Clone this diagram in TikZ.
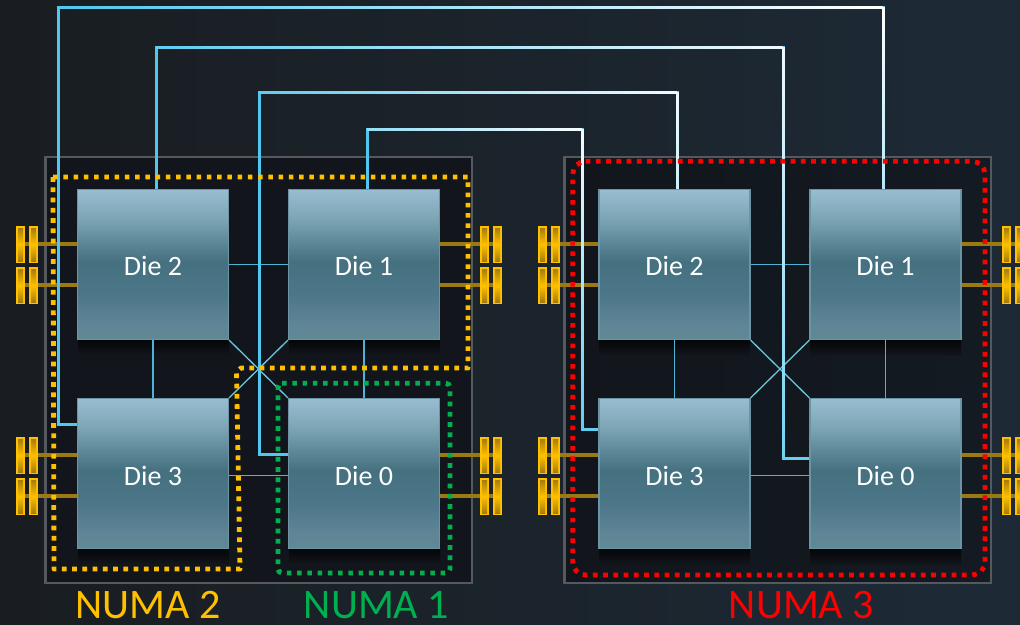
\documentclass[tikz,border=0pt]{standalone}
\usepackage{fontspec}
\setmainfont{Carlito}
\usetikzlibrary{calc}
\definecolor{bgL}{HTML}{191D21}
\definecolor{bgR}{HTML}{1D2A36}
\definecolor{pkgFill}{HTML}{12161C}
\definecolor{pkgFillR}{HTML}{131A22}
\definecolor{pkgLine}{HTML}{55595E}
\definecolor{linkc}{HTML}{4FC7EE}
\definecolor{thinc}{HTML}{4DB5D3}
\definecolor{diagc}{HTML}{6CC6DC}
\definecolor{tracec}{HTML}{9B7A14}
\definecolor{pinc}{HTML}{FFC000}
\definecolor{pinD}{HTML}{A67C0C}
\definecolor{numaG}{HTML}{00B050}
\definecolor{d0}{HTML}{5F8A93}
\definecolor{d1}{HTML}{5F8596}
\definecolor{d15}{HTML}{4C7789}
\definecolor{d2}{HTML}{44707F}
\definecolor{d3}{HTML}{7BA4B4}
\definecolor{d4}{HTML}{9ABDD0}
\pgfdeclareverticalshading{dieshade}{100bp}{color(0bp)=(d0); color(25bp)=(d0); color(30bp)=(d1); color(40bp)=(d15); color(51bp)=(d2); color(65bp)=(d3); color(75bp)=(d4); color(100bp)=(d4)}
\pgfdeclareverticalshading{pinshade}{100bp}{color(0bp)=(pinD); color(25bp)=(pinD); color(50bp)=(pinc); color(75bp)=(pinD); color(100bp)=(pinD)}
\tikzset{
  pkgbox/.style={draw=pkgLine,line width=2.2pt},
  die/.style={shade,shading=dieshade,draw=d3!70!d2,line width=1.2pt,minimum width=151pt,minimum height=150pt,inner sep=0pt,text=white,font=\fontsize{28}{30}\selectfont},
  link/.style={draw=linkc,line width=3pt,line join=miter},
  thinlink/.style={draw=thinc,line width=1.3pt},
  diag/.style={draw=diagc,line width=1.3pt},
  trace/.style={draw=tracec,line width=3.4pt},
  numadots/.style={line width=4.8pt,dash pattern=on 4.6pt off 5.65pt},
  numalabel/.style={inner sep=0pt,anchor=base,text height=27pt,text depth=0pt,font=\fontsize{42}{46}\selectfont},
}
\newcommand{\dietop}[1]{\raisebox{-10.5pt}[0pt][0pt]{#1}}
\newcommand{\diebot}[1]{\raisebox{-11.5pt}[0pt][0pt]{#1}}
\newcommand{\gradlink}[4]{%
  \foreach \i in {0,...,39}{%
    \pgfmathsetmacro{\s}{\i/40}%
    \pgfmathsetmacro{\e}{(\i+1)/40}%
    \pgfmathsetmacro{\p}{#3+(#4-#3)*(\i+.5)/40}%
    \draw[line width=3pt,line cap=square,color=linkc!\p!white] ($(#1)!\s!(#2)$) -- ($(#1)!\e!(#2)$);%
  }}
\newcommand{\pinpair}[2]{%
  \foreach \dx in {0,13}{%
    \fill[pinc] (#1+\dx,#2) rectangle (#1+\dx+9,#2+37);
    \shade[shading=pinshade] (#1+\dx+2,#2+2) rectangle (#1+\dx+7,#2+35);
  }}
\begin{document}
\begin{tikzpicture}[x=1pt,y=-1pt]
\useasboundingbox (0,0) rectangle (1020,624);
\shade[left color=bgL,right color=bgR] (0,0) rectangle (1020,624);
% packages
\shade[left color=pkgFill,right color=pkgFill,pkgbox] (45.5,157) rectangle (472,583);
\shade[left color=pkgFill,right color=pkgFillR,pkgbox] (564.5,157) rectangle (991,583);
% die soft shadows
\foreach \x/\y in {77/189,288/189,77/398,288/398,598/189,809/189,598/398,809/398}{
  \shade[top color=black!75!pkgFill,bottom color=pkgFill] (\x+1,\y+151) rectangle (\x+152,\y+166);
}
\node[die] (d2L) at (153,264.5) {\dietop{Die 2}};
\node[die] (d1L) at (364,264.5) {\dietop{Die 1}};
\node[die] (d3L) at (153,473.5) {\diebot{Die 3}};
\node[die] (d0L) at (364,473.5) {\diebot{Die 0}};
\node[die] (d2R) at (674.5,264.5) {\dietop{Die 2}};
\node[die] (d1R) at (885.5,264.5) {\dietop{Die 1}};
\node[die] (d3R) at (674.5,473.5) {\diebot{Die 3}};
\node[die] (d0R) at (885.5,473.5) {\diebot{Die 0}};
% thin links between dies
\foreach \a/\b/\c/\d in {d2L/d1L/d3L/d0L,d2R/d1R/d3R/d0R}{
  \draw[thinlink] (\a.east) -- (\b.west);
  \draw[thinlink] ([yshift=-2pt]\c.east) -- ([yshift=-2pt]\d.west);
  \draw[thinlink] (\a.south) -- (\c.north);
  \draw[thinlink] (\b.south) -- (\d.north);
  \draw[diag] (\a.south east) -- (\d.north west);
  \draw[diag] (\b.south west) -- (\c.north east);
}
% traces and pins
\foreach \dn/\ex/\ya/\yb in {d2L/20/244/285,d3L/20/455/496,d2R/542/244/285,d3R/542/455/496}{
  \draw[trace] (\dn.west |- 0,\ya) -- (\ex,\ya);
  \draw[trace] (\dn.west |- 0,\yb) -- (\ex,\yb);
}
\foreach \dn/\ex/\ya/\yb in {d1L/498/244/285,d0L/498/455/496,d1R/1020/244/285,d0R/1020/455/496}{
  \draw[trace] (\dn.east |- 0,\ya) -- (\ex,\ya);
  \draw[trace] (\dn.east |- 0,\yb) -- (\ex,\yb);
}
\foreach \x in {16,480,538,1002}{
  \foreach \y in {226,267,437,478}{\pinpair{\x}{\y}}
}
% long links
\coordinate (a1) at (58,424); \coordinate (a2) at (58,7); \coordinate (a3) at (883,7); \coordinate (a4) at (883,189);
\coordinate (b1) at (156,189); \coordinate (b2) at (156,47); \coordinate (b3) at (783,47); \coordinate (b4) at (783,458.5);
\coordinate (c1) at (259,454); \coordinate (c2) at (259,92); \coordinate (c3) at (677,92); \coordinate (c4) at (677,189);
\coordinate (e1) at (367,189); \coordinate (e2) at (367,129); \coordinate (e3) at (582,129); \coordinate (e4) at (582,429);
\draw[link] (d3L.west |- a1) -- (a1) -- (a2) -- (a3) -- (d1R.north -| a3);
\draw[link] (d2L.north -| b1) -- (b2) -- (b3) -- (b4) -- (d0R.west |- b4);
\draw[link] (d0L.west |- c1) -- (c1) -- (c2) -- (c3) -- (d2R.north -| c3);
\draw[link] (d1L.north -| e1) -- (e2) -- (e3) -- (e4) -- (d3R.west |- e4);
\gradlink{a2}{a3}{100}{0}\gradlink{a3}{a4}{0}{40}
\gradlink{b2}{b3}{90}{10}\gradlink{b3}{b4}{10}{80}
\gradlink{c2}{c3}{90}{8}\gradlink{c3}{c4}{8}{30}
\gradlink{e2}{e3}{60}{5}\gradlink{e3}{e4}{5}{90}
\draw[linkc!85!white,line width=3pt] (b4) -- (d0R.west |- b4);
\draw[linkc!90!white,line width=3pt] (e4) -- (d3R.west |- e4);
% dotted regions
\draw[pinc,numadots,line join=round] (53,177) -- (468,177) -- (468,368) -- (241,368) -- (236.5,372) -- (240,569) -- (54,569) -- cycle;
\draw[numaG,numadots,rounded corners=4pt] (278,383.3) -- (450,383.3) -- (450,573) -- (278,573) -- cycle;
\draw[red,numadots,rounded corners=13pt] (572.7,161.3) -- (985,161.3) -- (985,575) -- (572.7,575) -- cycle;
% labels
\node[numalabel,text=pinc] (n2) at (148,618) {NUMA 2};
\node[numalabel,text=numaG] (n1) at (376.5,618) {NUMA 1};
\node[numalabel,text=red] (n3) at (801.5,618) {NUMA 3};
\end{tikzpicture}
\end{document}
